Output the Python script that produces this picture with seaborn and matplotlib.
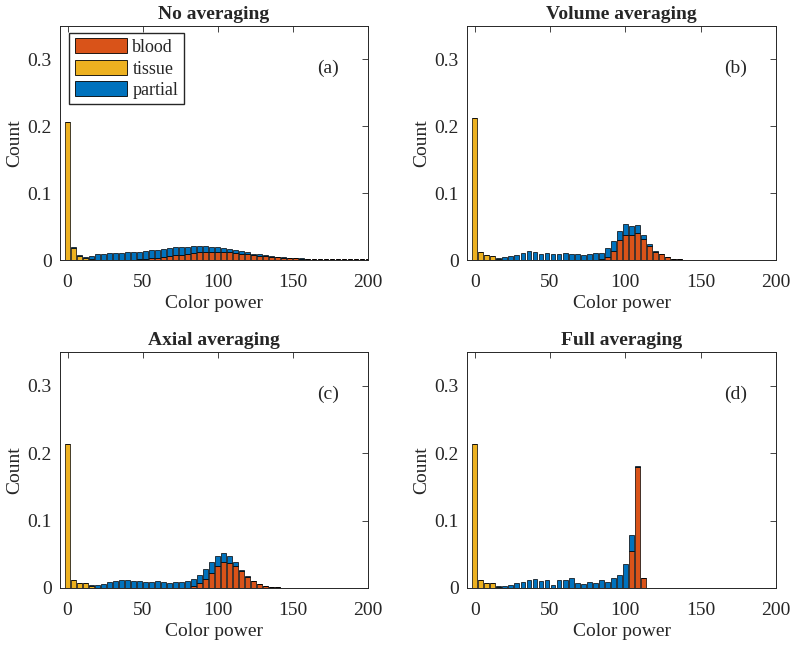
import numpy as np
import pandas as pd
import matplotlib
matplotlib.use('Agg')
import matplotlib.pyplot as plt
from matplotlib.patches import Patch
import seaborn as sns

# bin centres (colour power), 4 units wide
power = list(range(0, 201, 4))

# (a) no averaging
blood_a = [0, 0, 0, 0, 0, 0, 0, 0, 0, 0, 0,
           0.0005, 0.001, 0.0015, 0.0025, 0.0035, 0.005, 0.0065, 0.0075, 0.008, 0.0095,
           0.011, 0.012, 0.0125, 0.0125, 0.0125, 0.012, 0.0115, 0.0105, 0.0095, 0.0085,
           0.0075, 0.0065, 0.0058, 0.005, 0.0042, 0.0036, 0.003, 0.0026, 0.0022, 0.0018,
           0.0016, 0.0014, 0.0013, 0.0012, 0.0011, 0.001, 0.001, 0.0009, 0.0009, 0.0009]
tissue_a = [0.207, 0.018, 0.006, 0.003, 0.001] + [0] * 46
partial_a = [0, 0.001, 0.002, 0.002, 0.0055, 0.0085, 0.0095, 0.010, 0.0105, 0.011, 0.0115,
             0.0115, 0.0115, 0.0115, 0.012, 0.012, 0.012, 0.0115, 0.0115, 0.0115, 0.0105,
             0.0105, 0.009, 0.0085, 0.0075, 0.0065, 0.006, 0.005, 0.0045, 0.004, 0.003,
             0.002, 0.002, 0.0012, 0.001, 0.0008, 0.0006, 0.0005, 0.0004, 0.0003, 0.0002,
             0.0002, 0.0002, 0.0002, 0.0002, 0.0002, 0.0002, 0.0001, 0.0001, 0.0001, 0.0001]

# (b) volume averaging
blood_b = [0] * 21 + [0.001, 0.004, 0.014, 0.030, 0.037, 0.038, 0.041, 0.032, 0.021, 0.0125,
                      0.0088, 0.0045, 0.002, 0.001, 0.0006, 0.0005, 0.0005, 0.0004, 0.0004, 0.0003,
                      0.0003, 0.0003, 0.0002, 0.0002, 0.0002, 0.0002, 0.0002, 0.0001, 0.0001, 0.0001]
tissue_b = [0.212, 0.012, 0.008, 0.006, 0.002, 0.0005] + [0] * 45
partial_b = [0, 0, 0, 0, 0.0015, 0.0035, 0.0055, 0.0075, 0.010, 0.013, 0.012,
             0.0095, 0.0105, 0.009, 0.0095, 0.011, 0.0095, 0.0085, 0.0075, 0.0095, 0.0105,
             0.010, 0.014, 0.015, 0.0135, 0.017, 0.0125, 0.0115, 0.006, 0.003, 0.001,
             0.0002] + [0] * 19

# (c) axial averaging
blood_c = [0] * 21 + [0.0025, 0.0075, 0.013, 0.022, 0.032, 0.038, 0.037, 0.032, 0.025, 0.017,
                      0.010, 0.0055, 0.003, 0.0015, 0.0008, 0.0006, 0.0005, 0.0004, 0.0004, 0.0003,
                      0.0002, 0.0002] + [0] * 8
tissue_c = [0.213, 0.012, 0.0075, 0.0075, 0.003, 0.0005] + [0] * 45
partial_c = [0, 0, 0, 0, 0.001, 0.0035, 0.0065, 0.0085, 0.010, 0.0115, 0.012,
             0.011, 0.010, 0.009, 0.0095, 0.010, 0.0085, 0.008, 0.0085, 0.009, 0.0105,
             0.0105, 0.0115, 0.015, 0.017, 0.016, 0.014, 0.011, 0.006, 0.002, 0.001] + [0] * 20

# (d) full averaging
blood_d = [0] * 26 + [0.0545, 0.179, 0.0145] + [0] * 22
tissue_d = [0.213, 0.012, 0.0075, 0.0075, 0.0015, 0.0005] + [0] * 45
partial_d = [0, 0, 0, 0, 0.001, 0.002, 0.005, 0.007, 0.0095, 0.0115, 0.0135,
             0.0105, 0.0125, 0.005, 0.0115, 0.0115, 0.0155, 0.0075, 0.006, 0.0085, 0.007,
             0.0115, 0.009, 0.0145, 0.019, 0.0355, 0.0235, 0.002] + [0] * 23

panels = [
    ('No averaging', '(a)', blood_a, tissue_a, partial_a),
    ('Volume averaging', '(b)', blood_b, tissue_b, partial_b),
    ('Axial averaging', '(c)', blood_c, tissue_c, partial_c),
    ('Full averaging', '(d)', blood_d, tissue_d, partial_d),
]

colors = {'blood': '#D95319', 'tissue': '#EDB120', 'partial': '#0072BD'}

sns.set_style('white')
plt.rcParams['font.family'] = ['Liberation Serif', 'DejaVu Serif']
plt.rcParams['font.size'] = 14

fig = plt.figure(figsize=(8, 6.46), dpi=100)
positions = [
    [0.075, 0.5975, 0.385, 0.3622],
    [0.584, 0.5975, 0.386, 0.3622],
    [0.075, 0.0898, 0.385, 0.3653],
    [0.584, 0.0898, 0.386, 0.3653],
]

for pos, (title, tag, blood, tissue, partial) in zip(positions, panels):
    ax = fig.add_axes(pos)
    df = pd.DataFrame({
        'power': power * 3,
        'count': blood + tissue + partial,
        'class': ['blood'] * 51 + ['tissue'] * 51 + ['partial'] * 51,
    })
    sns.histplot(data=df, x='power', weights='count', hue='class',
                 hue_order=['partial', 'tissue', 'blood'], palette=colors,
                 multiple='stack', binwidth=4, binrange=(-2, 202), shrink=0.8, alpha=1,
                 edgecolor='black', linewidth=0.5, legend=False, ax=ax)
    ax.set_xlim(-5, 200)
    ax.set_ylim(0, 0.35)
    ax.set_xticks([0, 50, 100, 150, 200])
    ax.set_yticks([0, 0.1, 0.2, 0.3])
    ax.set_yticklabels(['0', '0.1', '0.2', '0.3'])
    ax.tick_params(direction='in', top=True, right=True, length=4, width=0.6,
                   labelsize=14, color='#262626')
    ax.tick_params(axis='x', pad=10)
    ax.tick_params(axis='y', pad=6)
    for s in ax.spines.values():
        s.set_color('#262626')
        s.set_linewidth(0.7)
    ax.set_title(title, fontweight='bold', fontsize=14, pad=5)
    ax.set_xlabel('Color power', fontsize=14, labelpad=3)
    ax.set_ylabel('Count', fontsize=14, labelpad=3)
    ax.text(0.87, 0.82, tag, transform=ax.transAxes, ha='center', va='center', fontsize=14)
    if tag == '(a)':
        handles = [Patch(facecolor=colors[c], edgecolor='black', linewidth=0.6, label=c)
                   for c in ['blood', 'tissue', 'partial']]
        ax.legend(handles=handles, loc='upper left', bbox_to_anchor=(0.03, 0.97),
                  fancybox=False, edgecolor='#262626', framealpha=1, fontsize=13,
                  handlelength=2.9, handleheight=0.9, labelspacing=0.2,
                  handletextpad=0.3, borderpad=0.3, borderaxespad=0)

fig.savefig('out.png', dpi=100)
